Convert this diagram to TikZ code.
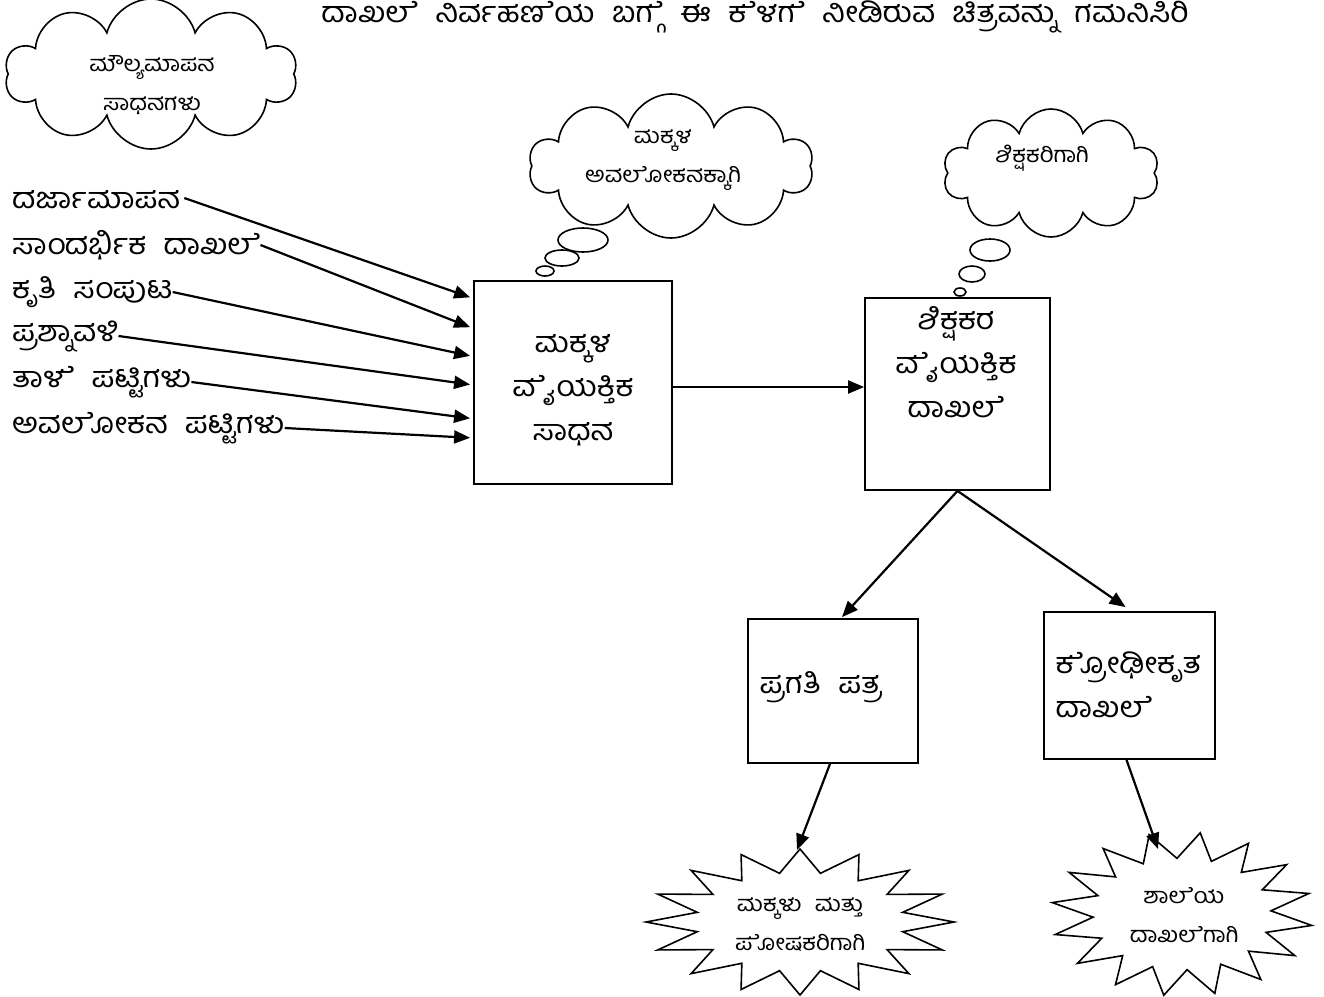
\documentclass[tikz,border=0pt]{standalone}
\usepackage{fontspec}
\newfontfamily\kn[Script=Kannada,FakeStretch=1.1,WordSpace=2.2]{Hind Mysuru}
\newfontfamily\kx[Script=Kannada,RawFeature={-pres},FakeStretch=1.1,WordSpace=2.2]{Hind Mysuru}
\newcommand\E[1]{{\kx #1}}
\usetikzlibrary{shapes.symbols,arrows.meta,calc}
\begin{document}
\begin{tikzpicture}[x=1pt,y=-1pt,
  every node/.style={font=\kn},
  big/.style={font=\kn\fontsize{29}{44}\selectfont},
  small/.style={font=\kn\fontsize{22}{39}\selectfont},
  listtxt/.style={big, anchor=west, inner sep=0pt},
  box/.style={draw, line width=1.8pt},
  cloudbox/.style={cloud, draw, line width=1.6pt, cloud puffs=10, aspect=2},
  bubble/.style={draw, line width=1.6pt},
  arr/.style={-{Triangle[length=16pt,width=13pt]}, line width=2.2pt},
  starline/.style={draw, line width=1.6pt}
]
\useasboundingbox (0,0) rectangle (1324,996);

% title
\node[big] (title) at (755,17) {ದಾಖ\E{ಲೆ} ನಿರ್ವಹ\E{ಣೆ}ಯ ಬ\E{ಗ್ಗೆ} ಈ \E{ಕೆ}ಳ\E{ಗೆ} ನೀಡಿರುವ ಚಿತ್ರವನ್ನು ಗಮನಿಸಿರಿ};

% cloud 1
\node[cloudbox, minimum width=292pt, minimum height=150pt] (c1) at (151,74) {};
\node[small, align=center] (c1t) at (152,85) {ಮೌಲ್ಯಮಾಪನ\\ಸಾಧನಗಳು};

% list
\node[listtxt] (l1) at (12,200) {ದರ್ಜಾಮಾಪನ};
\node[listtxt] (l2) at (12,245) {ಸಾಂದರ್ಭಿಕ ದಾಖ\E{ಲೆ}};
\node[listtxt] (l3) at (12,292) {ಕೃತಿ ಸಂಪುಟ};
\node[listtxt] (l4) at (12,336) {ಪ್ರಶ್ನಾವಳಿ};
\node[listtxt] (l5) at (12,382) {ತಾ\E{ಳೆ} ಪಟ್ಟಿಗಳು};
\node[listtxt] (l6) at (12,428) {ಅವ\E{ಲೋ}ಕನ ಪಟ್ಟಿಗಳು};

% box 1
\node[box, minimum width=198pt, minimum height=203pt] (b1) at (573,382.5) {};
\node[big, align=center] (b1t) at (573,390) {ಮಕ್ಕಳ\\\E{ವೈ}ಯಕ್ತಿಕ\\ಸಾಧನ};

\draw[arr] ($(l1.east)+(4,-2)$) -- ($(b1.north west)!0.084!(b1.south west)+(-3,0)$);
\draw[arr] (l2.east) -- ($(b1.north west)!0.23!(b1.south west)+(-3,0)$);
\draw[arr] (l3.east) -- ($(b1.north west)!0.37!(b1.south west)+(-3,0)$);
\draw[arr] (l4.east) -- ($(b1.north west)!0.51!(b1.south west)+(-3,0)$);
\draw[arr] (l5.east) -- ($(b1.north west)!0.675!(b1.south west)+(-3,0)$);
\draw[arr] (l6.east) -- ($(b1.north west)!0.77!(b1.south west)+(-3,0)$);

% cloud 2
\node[cloudbox, minimum width=284pt, minimum height=144pt] (c2) at (671,166) {};
\node[small, align=center] (c2t) at (663,160) {ಮಕ್ಕಳ\\ಅವ\E{ಲೋ}ಕನಕ್ಕಾಗಿ};
\draw[bubble] (583,240) ellipse [x radius=25pt, y radius=12pt];
\draw[bubble] (562,258) ellipse [x radius=17pt, y radius=8pt];
\draw[bubble] (545,271) ellipse [x radius=9pt, y radius=5pt];

% box 2
\node[box, minimum width=185pt, minimum height=192pt] (b2) at (957.5,394) {};
\node[big, align=center] (b2t) at (956,362) {ಶಿಕ್ಷಕರ\\\E{ವೈ}ಯಕ್ತಿಕ\\ದಾಖ\E{ಲೆ}};
\coordinate (b1out) at ($(b1.east)+(0,4.5)$);
\draw[arr] (b1out) -- (b1out -| b2.west);

% cloud 3
\node[cloudbox, minimum width=216pt, minimum height=128pt] (c3) at (1051,173) {};
\node[small] (c3t) at (1042,158) {ಶಿಕ್ಷಕರಿಗಾಗಿ};
\draw[bubble] (990,250) ellipse [x radius=20pt, y radius=11pt];
\draw[bubble] (972,274) ellipse [x radius=13pt, y radius=8pt];
\draw[bubble] (960,292) ellipse [x radius=6pt, y radius=4pt];

% box 3, box 4
\node[box, minimum width=170pt, minimum height=144pt] (b3) at (833,691) {};
\node[big, anchor=west] (b3t) at (756,687) {ಪ್ರಗತಿ ಪತ್ರ};
\node[box, minimum width=171pt, minimum height=147pt] (b4) at (1129.5,685.5) {};
\node[big, anchor=west, align=left] (b4t) at (1052,685) {\E{ಕ್ರೋ}ಢೀಕೃತ\\ದಾಖ\E{ಲೆ}};

\draw[arr] (b2.south) -- ($(b3.north)+(9,-1)$);
\draw[arr] (b2.south) -- ($(b4.north)+(-4,-4)$);

% stars
\coordinate (s1) at (800,922);
\coordinate (s2) at (1182,914);
\draw[starline, shift={(s1)}] plot[samples=33, domain=0:32, variable=\k]
  ({(mod(round(\k),2)==0 ? 1 : 0.68)*154*cos(90+\k*11.25)},
   {(mod(round(\k),2)==0 ? 1 : 0.68)*73*sin(90+\k*11.25)}) -- cycle;
\draw[starline, shift={(s2)}] plot[samples=33, domain=0:32, variable=\k]
  ({(mod(round(\k),2)==0 ? 1 : 0.68)*131*cos(98+\k*11.25)},
   {(mod(round(\k),2)==0 ? 1 : 0.68)*82*sin(98+\k*11.25)}) -- cycle;
\node[small, align=center] (s1t) at (800,925) {ಮಕ್ಕಳು ಮತ್ತು\\\E{ಪೋ}ಷಕರಿಗಾಗಿ};
\node[small, align=center] (s2t) at (1184,915) {ಶಾ\E{ಲೆ}ಯ\\ದಾಖ\E{ಲೆ}ಗಾಗಿ};
\coordinate (s1tip) at (797,850);
\coordinate (s2tip) at (1158,849);
\draw[arr] ($(b3.south)+(-3,0)$) -- (s1tip);
\draw[arr] ($(b4.south)+(-3,0)$) -- (s2tip);
\end{tikzpicture}
\end{document}
